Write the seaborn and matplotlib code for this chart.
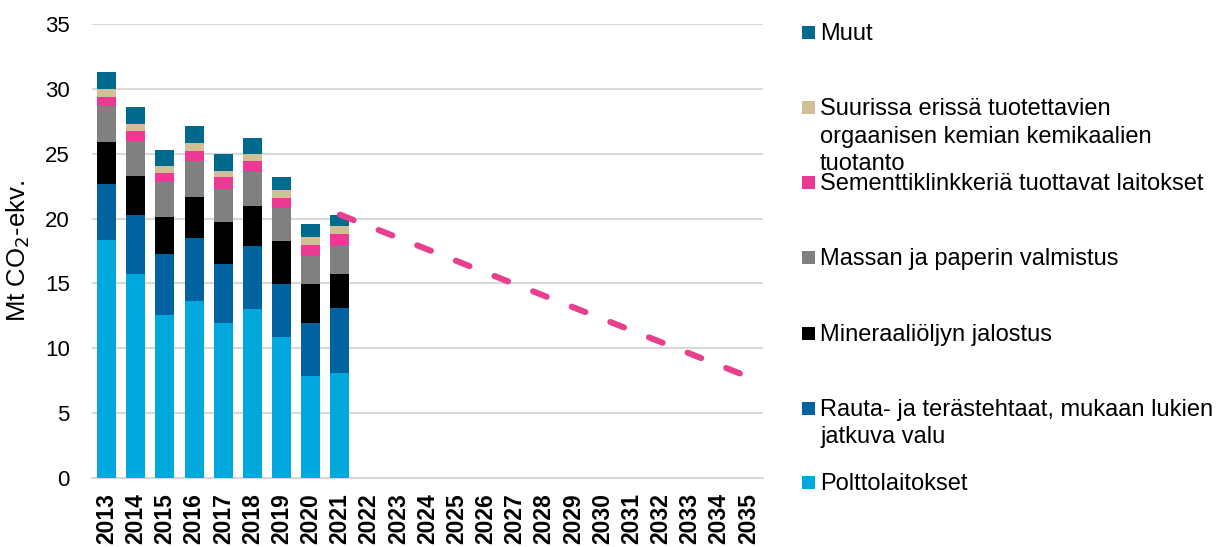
import numpy as np
import pandas as pd
import matplotlib
matplotlib.use("Agg")
import matplotlib.pyplot as plt
import seaborn as sns
from matplotlib.patches import Rectangle

# data (Mt CO2-ekv.)
years = [str(y) for y in range(2013, 2036)]
hist_years = [str(y) for y in range(2013, 2022)]

polttolaitokset = [18.35, 15.7, 12.57, 13.65, 11.95, 13.0, 10.9, 7.9, 8.1]
rauta = [4.35, 4.55, 4.68, 4.85, 4.55, 4.85, 4.05, 4.05, 5.0]
mineraali = [3.2, 3.05, 2.85, 3.2, 3.25, 3.1, 3.3, 3.0, 2.6]
massa = [2.8, 2.7, 2.7, 2.7, 2.5, 2.65, 2.55, 2.2, 2.2]
sementti = [0.7, 0.75, 0.7, 0.8, 0.95, 0.85, 0.8, 0.8, 0.9]
suurissa = [0.57, 0.55, 0.55, 0.6, 0.5, 0.55, 0.6, 0.6, 0.6]
muut = [1.33, 1.3, 1.25, 1.3, 1.3, 1.2, 1.0, 1.0, 0.9]

target_years = ["2021", "2035"]
target_values = [20.3, 7.8]

series_names = [
    "Polttolaitokset",
    "Rauta- ja terästehtaat, mukaan lukien\njatkuva valu",
    "Mineraaliöljyn jalostus",
    "Massan ja paperin valmistus",
    "Sementtiklinkkeriä tuottavat laitokset",
    "Suurissa erissä tuotettavien\norgaanisen kemian kemikaalien\ntuotanto",
    "Muut",
]
series_values = [polttolaitokset, rauta, mineraali, massa, sementti, suurissa, muut]
colors = ["#00A8DE", "#0063A0", "#000000", "#808080", "#EC3A94", "#D3BF95", "#006A8E"]

sns.set_theme(style="white")
plt.rcParams["font.family"] = ["Liberation Sans", "DejaVu Sans"]
plt.rcParams["text.color"] = "black"
plt.rcParams["axes.labelcolor"] = "black"
plt.rcParams["xtick.color"] = "black"
plt.rcParams["ytick.color"] = "black"

W, H = 1228, 547
fig = plt.figure(figsize=(W / 100, H / 100), dpi=100)
ax = fig.add_axes([92 / W, 1 - 478 / H, 671 / W, 454 / H])

# stacked bars: draw cumulative totals from top down
df = pd.DataFrame({"year": hist_years})
cum = np.zeros(len(hist_years))
cums = []
for vals in series_values:
    cum = cum + np.array(vals)
    cums.append(cum.copy())
for total, col in zip(reversed(cums), reversed(colors)):
    df["v"] = total
    sns.barplot(data=df, x="year", y="v", order=years, color=col, width=0.65,
                saturation=1, edgecolor="none", ax=ax, zorder=3)

# target line
pos = [years.index(y) for y in target_years]
sns.lineplot(x=pos, y=target_values, ax=ax, color="#E8408F", linewidth=4.4,
             linestyle=(0, (2.4, 4.4)), dash_capstyle="round", zorder=4)

ax.set_ylim(0, 35)
ax.set_yticks(range(0, 36, 5))
ax.set_xlim(-0.5, len(years) - 0.5)
ax.yaxis.grid(True, color="#D9D9D9", linewidth=1.5, zorder=0)
ax.set_axisbelow(True)
for s in ["top", "right", "left"]:
    ax.spines[s].set_visible(False)
ax.spines["bottom"].set_color("#D9D9D9")
ax.spines["bottom"].set_linewidth(1.5)
ax.tick_params(axis="y", labelsize=16, length=0, pad=16, labelcolor="black")
ax.tick_params(axis="x", labelsize=16.5, length=0, pad=11, labelcolor="black")
ax.set_xticks(range(len(years)))
ax.set_xticklabels(years, rotation=90, fontweight="bold")
ax.set_xlabel("")
ax.set_ylabel("Mt CO$_2$-ekv.", fontsize=18.5, color="black")
ax.yaxis.set_label_coords(-60 / 671, 0.5)

# legend on the right, spaced as in the original
legend_base = [40, 115, 190, 265, 341, 416, 490]  # pixel baselines of first lines
order = [6, 5, 4, 3, 2, 1, 0]
for yb, i in zip(legend_base, order):
    fig.patches.append(Rectangle((802 / W, 1 - (yb - 1) / H), 13 / W, 13 / H,
                                 transform=fig.transFigure, facecolor=colors[i],
                                 edgecolor="none"))
    for k, line in enumerate(series_names[i].split("\n")):
        fig.text(820 / W, 1 - (yb + 27.5 * k) / H, line, fontsize=17,
                 va="baseline", ha="left", color="black")

fig.savefig("out.png", dpi=100)
